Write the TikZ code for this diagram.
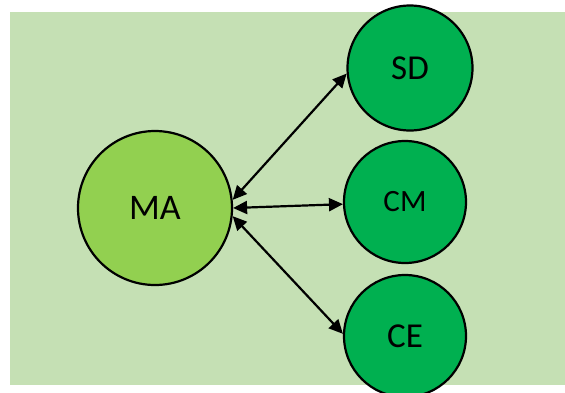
\documentclass[tikz,border=0pt]{standalone}
\usepackage{fontspec}
\setmainfont{Carlito}
\usetikzlibrary{arrows.meta}
\definecolor{bggreen}{HTML}{C5E0B4}
\definecolor{lightg}{HTML}{92D050}
\definecolor{darkg}{HTML}{00B050}
\tikzset{
  bubble/.style={circle, draw=black, line width=2.2pt, inner sep=0pt},
  link/.style={line width=2.2pt, {Triangle[length=14pt,width=13pt]}-{Triangle[length=14pt,width=13pt]}}
}
\begin{document}
\begin{tikzpicture}[x=1pt,y=-1pt]
\useasboundingbox (0,0) rectangle (565,392);
\fill[white] (0,0) rectangle (565,392);
\fill[bggreen] (10,12) rectangle (565,385);
\node[bubble, fill=lightg, minimum size=154pt, font=\fontsize{36}{40}\selectfont] (MA) at (155,208) {MA};
\node[bubble, fill=darkg, minimum size=125pt, font=\fontsize{35}{40}\selectfont] (SD) at (410,68) {SD};
\node[bubble, fill=darkg, minimum size=122pt, font=\fontsize{31}{35}\selectfont] (CM) at (405,202) {CM};
\node[bubble, fill=darkg, minimum size=122pt, font=\fontsize{35}{40}\selectfont] (CE) at (405,336) {CE};
\draw[link] (MA.6) -- (SD.185);
\draw[link] (MA.0) -- (CM.182);
\draw[link] (MA.-6) -- (CE.178);
\end{tikzpicture}
\end{document}
